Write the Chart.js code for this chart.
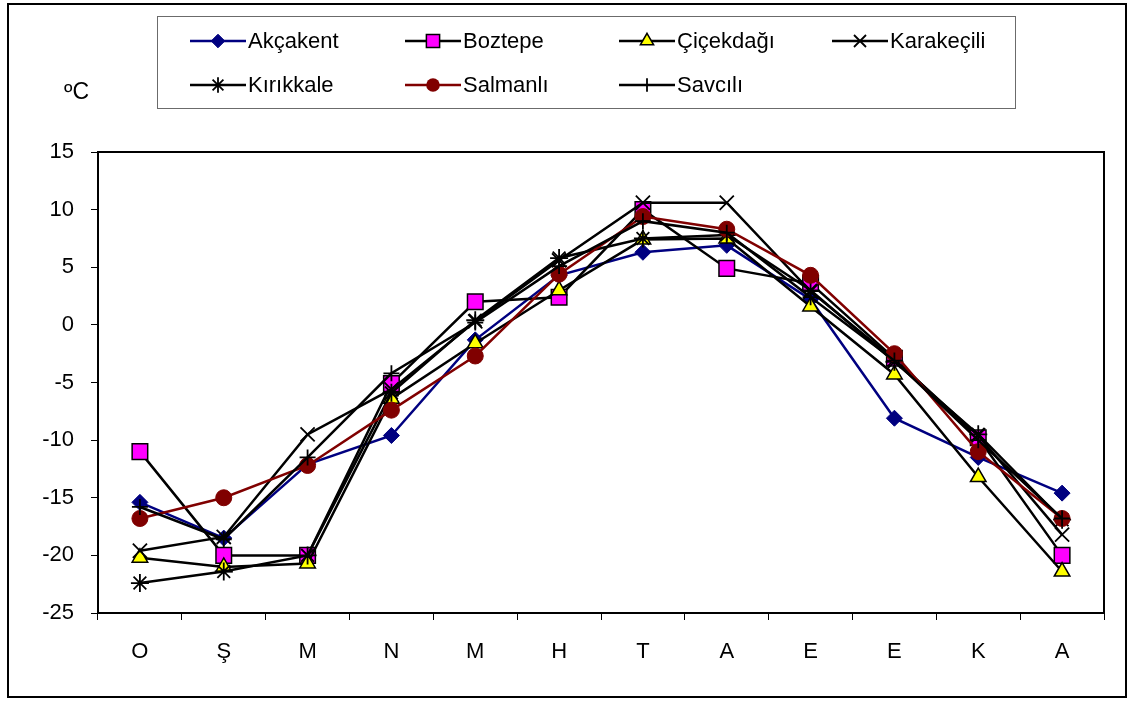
<!DOCTYPE html>
<html>
<head>
<meta charset="utf-8">
<script src="https://cdn.jsdelivr.net/npm/chart.js@4/dist/chart.umd.min.js"></script>
<style>
  html, body { margin: 0; padding: 0; background: #fff; }
  #wrap { width: 1131px; height: 706px; position: relative; }
</style>
</head>
<body>
<div id="wrap"><canvas id="c" width="1131" height="706"></canvas></div>
<script>
// Monthly mean temperatures (°C) per station, January to December
const months = ['O', 'Ş', 'M', 'N', 'M', 'H', 'T', 'A', 'E', 'E', 'K', 'A'];
const yTicks = [-25, -20, -15, -10, -5, 0, 5, 10, 15];

const akcakent   = [-15.4, -18.5, -12.1, -9.6, -1.3, 4.3, 6.3, 6.9, 2.2, -8.1, -11.5, -14.6];
const boztepe    = [-11.0, -20.0, -20.0, -5.1, 2.0, 2.4, 10.0, 4.9, 3.6, -2.9, -9.8, -20.0];
const cicekdagi  = [-20.2, -21.0, -20.7, -6.4, -1.6, 3.0, 7.4, 7.5, 1.6, -4.3, -13.2, -21.4];
const karakecili = [-19.6, -18.4, -9.5, -5.6, 0.3, 5.6, 10.6, 10.6, 2.9, -3.0, -9.6, -18.2];
const kirikkale  = [-22.4, -21.4, -20.0, -5.9, 0.4, 5.8, 7.5, 7.8, 3.0, -3.2, -9.5, -16.9];
const salmanli   = [-16.8, -15.0, -12.2, -7.4, -2.7, 4.4, 9.4, 8.3, 4.3, -2.5, -11.0, -16.8];
const savcili    = [-15.8, -18.6, -11.5, -4.2, 0.2, 5.1, 9.0, 8.0, 2.4, -3.1, -10.0, -16.8];

const FONT = "'Liberation Sans', Arial, sans-serif";

const series = [
  { label: 'Akçakent',   data: akcakent,   line: '#000080', fill: '#000080', edge: '#000080', style: 'rectRot',  r: 8,  bw: 1 },
  { label: 'Boztepe',    data: boztepe,    line: '#000000', fill: '#FF00FF', edge: '#000000', style: 'rect',     r: 11, bw: 1.5 },
  { label: 'Çiçekdağı',  data: cicekdagi,  line: '#000000', fill: '#FFFF00', edge: '#000000', style: 'triangle', r: 9,  bw: 1.5 },
  { label: 'Karakeçili', data: karakecili, line: '#000000', fill: '#000000', edge: '#000000', style: 'crossRot', r: 10, bw: 1.8 },
  { label: 'Kırıkkale',  data: kirikkale,  line: '#000000', fill: '#000000', edge: '#000000', style: 'star',     r: 9,  bw: 1.8 },
  { label: 'Salmanlı',   data: salmanli,   line: '#800000', fill: '#800000', edge: '#800000', style: 'circle',   r: 8,  bw: 1 },
  { label: 'Savcılı',    data: savcili,    line: '#000000', fill: '#000000', edge: '#000000', style: 'cross',    r: 8,  bw: 1.8 }
];

const datasets = series.map((s, i) => ({
  label: s.label,
  data: s.data,
  borderColor: s.line,
  backgroundColor: s.fill,
  borderWidth: 2.5,
  tension: 0,
  pointStyle: s.style,
  pointRadius: s.r,
  pointHoverRadius: s.r,
  pointBackgroundColor: s.fill,
  pointBorderColor: s.edge,
  pointBorderWidth: s.bw,
  order: series.length - i
}));

// Marker drawing for the legend samples
function marker(ctx, s, x, y, r) {
  ctx.save();
  ctx.fillStyle = s.fill;
  ctx.strokeStyle = s.edge;
  ctx.lineWidth = s.bw;
  ctx.beginPath();
  if (s.style === 'rectRot') {
    ctx.moveTo(x, y - r); ctx.lineTo(x + r, y); ctx.lineTo(x, y + r); ctx.lineTo(x - r, y); ctx.closePath();
    ctx.fill(); ctx.stroke();
  } else if (s.style === 'rect') {
    const h = r * Math.SQRT1_2;
    ctx.rect(x - h, y - h, 2 * h, 2 * h); ctx.fill(); ctx.stroke();
  } else if (s.style === 'triangle') {
    ctx.moveTo(x, y - r); ctx.lineTo(x + r * 0.866, y + r * 0.5); ctx.lineTo(x - r * 0.866, y + r * 0.5); ctx.closePath();
    ctx.fill(); ctx.stroke();
  } else if (s.style === 'circle') {
    ctx.arc(x, y, r, 0, Math.PI * 2); ctx.fill();
  } else {
    const d = r * Math.SQRT1_2;
    if (s.style === 'cross' || s.style === 'star') {
      ctx.moveTo(x, y - r); ctx.lineTo(x, y + r);
      if (s.style === 'cross') { ctx.moveTo(x - r, y); ctx.lineTo(x + r, y); }
    }
    if (s.style === 'crossRot' || s.style === 'star') {
      ctx.moveTo(x - d, y - d); ctx.lineTo(x + d, y + d);
      ctx.moveTo(x - d, y + d); ctx.lineTo(x + d, y - d);
    }
    ctx.stroke();
  }
  ctx.restore();
}

const decorations = {
  id: 'decorations',
  beforeDatasetsDraw(chart) {
    const { ctx, chartArea: a } = chart;
    ctx.save();
    ctx.strokeStyle = '#000';
    ctx.lineWidth = 2;
    ctx.strokeRect(a.left, a.top, a.right - a.left, a.bottom - a.top);
    ctx.restore();
  },
  afterDraw(chart) {
    const ctx = chart.ctx;
    ctx.save();
    // outer frame
    ctx.strokeStyle = '#000';
    ctx.lineWidth = 2;
    ctx.strokeRect(8, 4, 1118, 693);
    // unit label
    ctx.fillStyle = '#000';
    ctx.textBaseline = 'alphabetic';
    ctx.font = '23px ' + FONT;
    ctx.fillText('ºC', 64, 99);
    // legend box
    ctx.strokeStyle = '#6b6b6b';
    ctx.lineWidth = 1;
    ctx.strokeRect(157.5, 16.5, 858, 92);
    const cols = [190, 405, 619, 832];
    const rows = [41, 85];
    ctx.font = '22px ' + FONT;
    ctx.textBaseline = 'middle';
    series.forEach((s, i) => {
      const x0 = cols[i % 4], y = rows[Math.floor(i / 4)];
      ctx.strokeStyle = s.line;
      ctx.lineWidth = 2.5;
      ctx.beginPath(); ctx.moveTo(x0, y); ctx.lineTo(x0 + 56, y); ctx.stroke();
      marker(ctx, s, x0 + 28, y, s.r * 0.85);
      ctx.fillStyle = '#000';
      ctx.fillText(s.label, x0 + 58, y + 1);
    });
    ctx.restore();
  }
};

new Chart(document.getElementById('c'), {
  type: 'line',
  data: { labels: months, datasets },
  options: {
    responsive: false,
    animation: false,
    events: [],
    layout: { padding: { left: 0, top: 152, right: 27, bottom: 0 } },
    plugins: { legend: { display: false }, tooltip: { enabled: false } },
    scales: {
      x: {
        offset: true,
        grid: { offset: true, drawOnChartArea: false, drawTicks: true, tickLength: 7, color: '#000', lineWidth: 1 },
        border: { display: true, color: '#000', width: 2 },
        ticks: { color: '#000', font: { family: FONT, size: 22 }, padding: 19, maxRotation: 0, autoSkip: false },
        afterFit(s) { s.height = 93; }
      },
      y: {
        min: yTicks[0],
        max: yTicks[yTicks.length - 1],
        afterBuildTicks(s) { s.ticks = yTicks.map(v => ({ value: v })); },
        grid: { drawOnChartArea: false, drawTicks: true, tickLength: 7, color: '#000', lineWidth: 1 },
        border: { display: true, color: '#000', width: 2 },
        ticks: { color: '#000', font: { family: FONT, size: 22 }, padding: 17 },
        afterFit(s) { s.width = 98; }
      }
    }
  },
  plugins: [decorations]
});
</script>
</body>
</html>
